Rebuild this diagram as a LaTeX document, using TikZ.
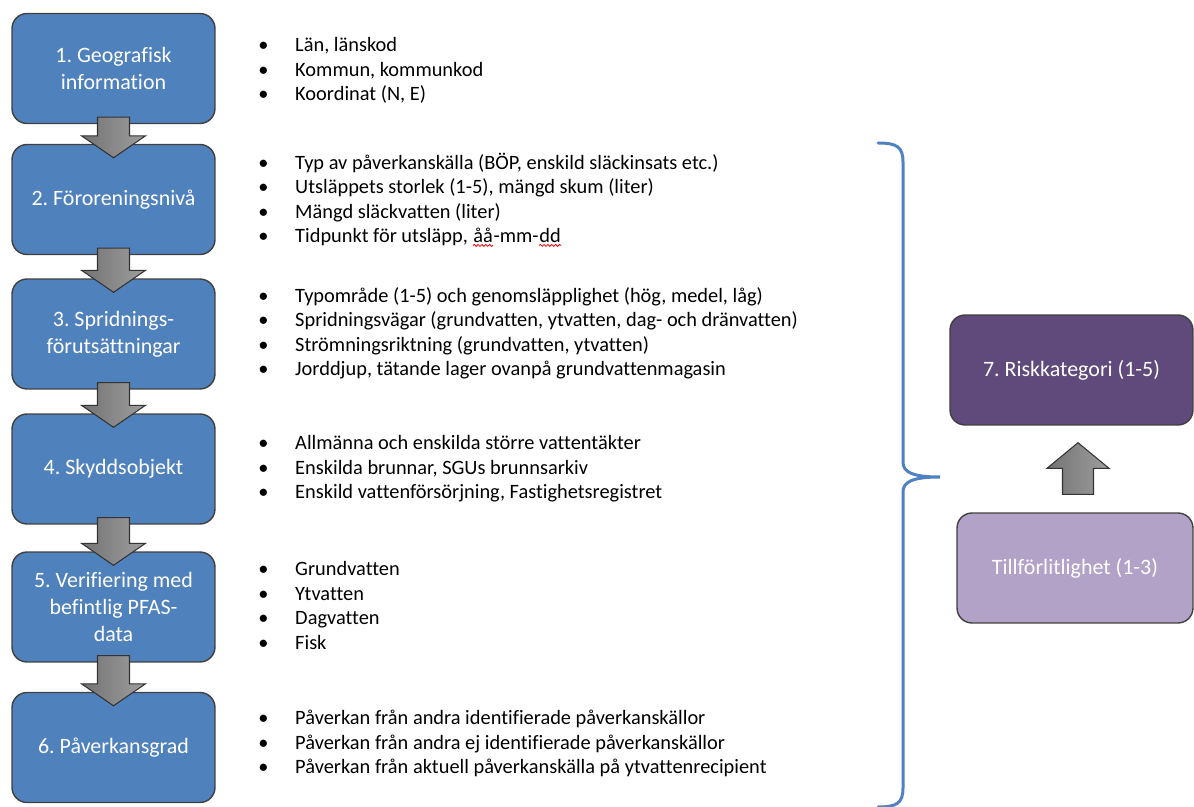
\documentclass[tikz,border=0pt]{standalone}
\usepackage{fontspec}
\setmainfont{Carlito}[Ligatures=NoCommon]
\frenchspacing
\usetikzlibrary{positioning, calc, decorations.pathmorphing}

\definecolor{stageblue}{RGB}{79,129,189}
\definecolor{riskpurple}{RGB}{96,74,123}
\definecolor{relpurple}{RGB}{179,162,199}
\definecolor{bracecol}{RGB}{79,129,195}

% bullet with hanging indent
\newcommand{\bul}{\makebox[21pt][l]{\textbullet}}
% red squiggle as in the source
\newcommand{\spellwave}[1]{\tikz[baseline=(w.base)]{\node[inner sep=0pt] (w) {#1};
    \draw[red, line width=0.45pt, decorate, decoration={snake, amplitude=0.55pt, segment length=2.2pt}]
    ([yshift=-1.2pt]w.south west) -- ([yshift=-1.2pt]w.south east);}}

\tikzset{
  stage/.style={draw=black!75, line width=0.8pt, fill=stageblue, rounded corners=0.3cm,
    minimum width=4.06cm, minimum height=2.2cm, text=white, align=center,
    font=\fontsize{12.5}{15.5}\selectfont},
  riskbox/.style={stage, minimum width=4.86cm},
  items/.style={anchor=west, inner sep=0pt, align=left, font=\fontsize{11.6}{13.9}\selectfont},
  blockarrow/.style={draw=black!80, line width=0.6pt, left color=black!55, right color=black!38}
}

\begin{document}
\begin{tikzpicture}[x=0.02cm, y=-0.02cm]
    \useasboundingbox (0,0) rectangle (1194,807);

    % the steps
    \node[stage] (g1) at (113.5,68.5) {1. Geografisk\\information};
    \node[stage] (g2) at (113.5,199.5) {2. Föroreningsnivå};
    \node[stage] (g3) at (113.5,334) {3. Spridnings-\\förutsättningar};
    \node[stage] (g4) at (113.5,469) {4. Skyddsobjekt};
    \node[stage] (g5) at (113.5,607) {5. Verifiering med\\befintlig PFAS-\\data};
    \node[stage] (g6) at (113.5,747.5) {6. Påverkansgrad};

    % arrows between the steps
    \foreach \a/\b in {g1/g2, g2/g3, g3/g4, g4/g5, g5/g6}
        \draw[blockarrow] ($(\a.south)+(-16,-7)$) -- ($(\b.north)+(-16,-8)$) -- ($(\b.north)+(-32,-8)$)
            -- ($(\b.north)+(0,14)$) -- ($(\b.north)+(32,-8)$) -- ($(\b.north)+(16,-8)$)
            -- ($(\a.south)+(16,-7)$) -- cycle;

    % the lists
    \node[items] (l1) at (258,70.5) {\bul Län, länskod\\\bul Kommun, kommunkod\\\bul Koordinat (N, E)};
    \node[items] (l2) at (258,200) {\bul Typ av påverkanskälla (BÖP, enskild släckinsats etc.)\\
        \bul Utsläppets storlek (1-5), mängd skum (liter)\\\bul Mängd släckvatten (liter)\\
        \bul Tidpunkt för utsläpp, \spellwave{åå}-mm-\spellwave{dd}};
    \node[items] (l3) at (258,333.5) {\bul Typområde (1-5) och genomsläpplighet (hög, medel, låg)\\
        \bul Spridningsvägar (grundvatten, ytvatten, dag- och dränvatten)\\
        \bul Strömningsriktning (grundvatten, ytvatten)\\
        \bul Jorddjup, tätande lager ovanpå grundvattenmagasin};
    \node[items] (l4) at (258,469) {\bul Allmänna och enskilda större vattentäkter\\
        \bul Enskilda brunnar, SGUs brunnsarkiv\\\bul Enskild vattenförsörjning, Fastighetsregistret};
    \node[items] (l5) at (258,605.5) {\bul Grundvatten\\\bul Ytvatten\\\bul Dagvatten\\\bul Fisk};
    \node[items] (l6) at (258,743.5) {\bul Påverkan från andra identifierade påverkanskällor\\
        \bul Påverkan från andra ej identifierade påverkanskällor\\
        \bul Påverkan från aktuell påverkanskälla på ytvattenrecipient};

    % the brace
    \draw[bracecol, line width=0.06cm, line cap=round]
        (878,143) .. controls (897,143) and (903,147) .. (903,162) -- (903,462)
        .. controls (903,472) and (912,477) .. (940,477)
        .. controls (912,477) and (903,482) .. (903,492) -- (903,788)
        .. controls (903,803) and (897,807) .. (878,807);

    % risk category
    \node[riskbox, fill=riskpurple] (risk) at (1071.5,370) {7. Riskkategori (1-5)};
    \node[riskbox, fill=relpurple, minimum width=4.72cm] (rel) at (1075,568) {Tillförlitlighet (1-3)};

    \draw[blockarrow] ($(rel.north)+(-12.5,-18)$) -- ($(rel.north)+(-12.5,-44)$) -- ($(rel.north)+(-28,-44)$)
        -- ($(risk.south)+(6.5,17)$) -- ($(rel.north)+(34,-44)$) -- ($(rel.north)+(18.5,-44)$)
        -- ($(rel.north)+(18.5,-18)$) -- cycle;
\end{tikzpicture}
\end{document}
